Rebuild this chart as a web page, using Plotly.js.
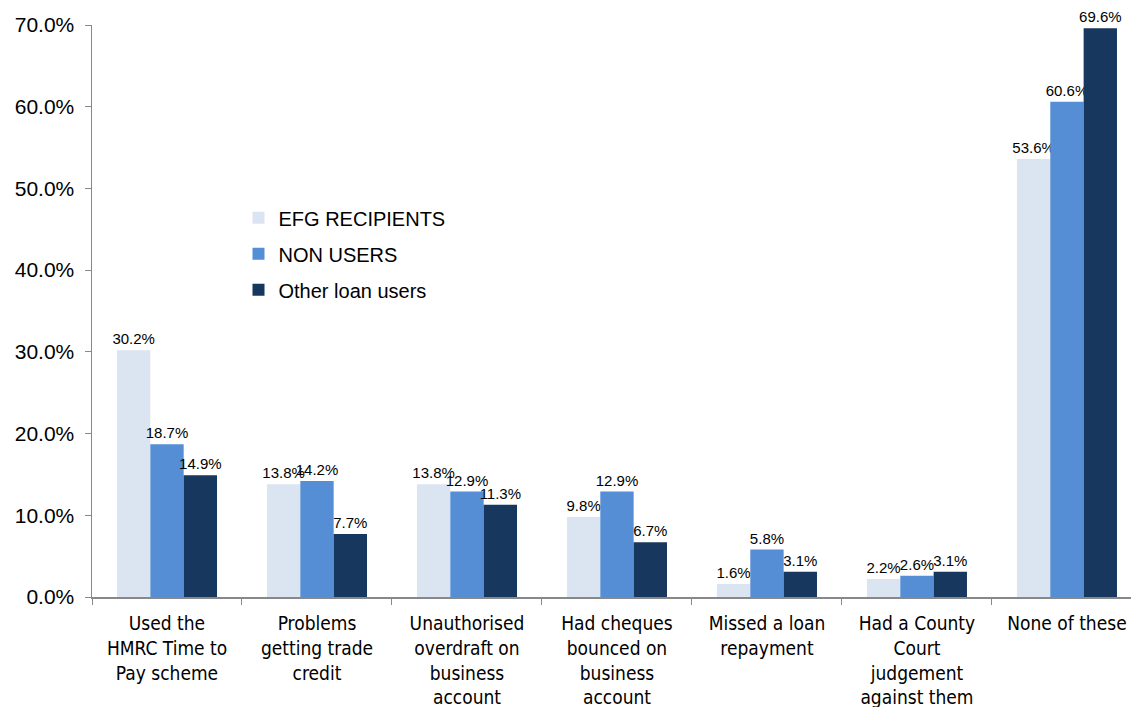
<!DOCTYPE html>
<html>
<head>
<meta charset="utf-8">
<script src="https://cdn.plot.ly/plotly-3.0.1.min.js"></script>
<style>html,body{margin:0;padding:0;background:#fff;}#chart{width:1131px;height:707px;}</style>
</head>
<body>
<div id="chart"></div>
<script>
const categories = [
  "Used the<br>HMRC Time to<br>Pay scheme",
  "Problems<br>getting trade<br>credit",
  "Unauthorised<br>overdraft on<br>business<br>account",
  "Had cheques<br>bounced on<br>business<br>account",
  "Missed a loan<br>repayment",
  "Had a County<br>Court<br>judgement<br>against them",
  "None of these"
];
const efgRecipients = [30.2, 13.8, 13.8, 9.8, 1.6, 2.2, 53.6];
const nonUsers = [18.7, 14.2, 12.9, 12.9, 5.8, 2.6, 60.6];
const otherLoanUsers = [14.9, 7.7, 11.3, 6.7, 3.1, 3.1, 69.6];
const seriesNames = ["EFG RECIPIENTS", "NON USERS", "Other loan users"];
const yTicks = [0, 10, 20, 30, 40, 50, 60, 70];

const colors = ["#dbe5f1", "#558ed5", "#17375e"];
const allSeries = [efgRecipients, nonUsers, otherLoanUsers];
const traces = allSeries.map((vals, i) => ({
  type: "bar",
  name: seriesNames[i],
  legendgroup: "g" + i,
  x: categories,
  y: vals,
  marker: {color: colors[i], line: {width: 0}},
  texttemplate: "%{y:.1f}%",
  textposition: "outside",
  constraintext: "none",
  cliponaxis: false,
  textfont: {family: "Liberation Sans, Arial, sans-serif", size: 15, color: "#000"},
  hoverinfo: "none"
}));

const layout = {
  width: 1131, height: 707,
  margin: {l: 92, r: 0, t: 25, b: 110},
  paper_bgcolor: "#fff", plot_bgcolor: "#fff",
  barmode: "group", bargap: 0.333, bargroupgap: 0,
  showlegend: true,
  legend: {x: 0.141, y: 0.697, xanchor: "left", yanchor: "top",
    font: {family: "Liberation Sans, Arial, sans-serif", size: 20, color: "#000"},
    traceorder: "grouped", tracegroupgap: 7, itemwidth: 30, bgcolor: "rgba(0,0,0,0)"},
  xaxis: {
    type: "category", range: [-0.5, 6.427],
    showline: true, linecolor: "#888", linewidth: 1.5,
    ticks: "outside", tickson: "boundaries", ticklen: 6, tickcolor: "#888",
    ticklabelstandoff: 9,
    tickfont: {family: "Liberation Sans Narrow, DejaVu Sans Condensed, Arial Narrow, sans-serif", size: 19, color: "#000"},
    showgrid: false, automargin: false
  },
  yaxis: {
    range: [0, 70], tickvals: yTicks, ticktext: yTicks.map(v => v.toFixed(1) + "%"),
    showline: true, linecolor: "#888", linewidth: 1.5,
    ticks: "outside", ticklen: 6, tickcolor: "#888",
    ticklabelstandoff: 6,
    tickfont: {family: "Liberation Sans, Arial, sans-serif", size: 21, color: "#000"},
    showgrid: false, zeroline: false, automargin: false
  },
  font: {family: "Liberation Sans, Arial, sans-serif"}
};

Plotly.newPlot("chart", traces, layout, {staticPlot: true, displayModeBar: false});
</script>
</body>
</html>
